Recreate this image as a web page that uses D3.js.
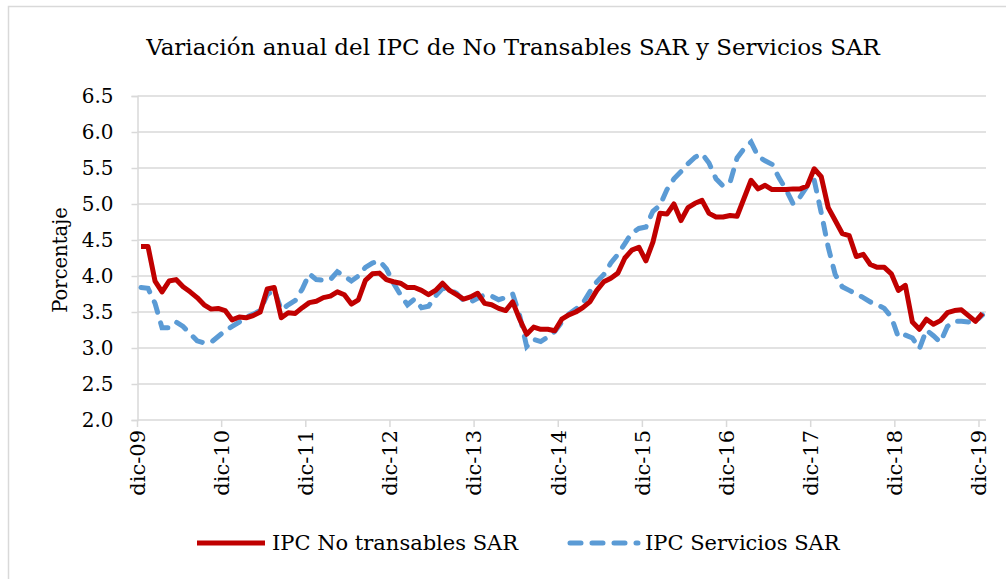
<!DOCTYPE html>
<html>
<head>
<meta charset="utf-8">
<script src="https://cdn.jsdelivr.net/npm/d3@7"></script>
<style>
  body { margin: 0; background: #fff; }
  svg text { font-family: "DejaVu Serif", serif; fill: #000; }
</style>
</head>
<body>
<div id="chart"></div>
<script>
// Monthly data, dic-09 ... dic-19 (121 months)
const noTransables = [
  4.41, 4.41, 3.93, 3.78, 3.93, 3.95, 3.85, 3.78, 3.70, 3.60, 3.54, 3.55,
  3.52, 3.39, 3.43, 3.42, 3.45, 3.50, 3.82, 3.84, 3.42, 3.49, 3.48, 3.56,
  3.63, 3.65, 3.70, 3.72, 3.78, 3.74, 3.61, 3.67, 3.94, 4.03, 4.04, 3.95,
  3.92, 3.90, 3.84, 3.84, 3.80, 3.74, 3.80, 3.90, 3.80, 3.74, 3.68, 3.71,
  3.76, 3.62, 3.60, 3.55, 3.52, 3.64, 3.40, 3.19, 3.29, 3.26, 3.26, 3.24,
  3.40, 3.46, 3.50, 3.56, 3.64, 3.80, 3.92, 3.97, 4.04, 4.25, 4.36, 4.40,
  4.21, 4.47, 4.87, 4.86, 5.00, 4.77, 4.95, 5.01, 5.05, 4.87, 4.82, 4.82,
  4.84, 4.83, 5.08, 5.33, 5.21, 5.26, 5.20, 5.20, 5.20, 5.21, 5.21, 5.25,
  5.49, 5.38, 4.95, 4.77, 4.59, 4.56, 4.27, 4.30, 4.16, 4.12, 4.12, 4.03,
  3.80, 3.87, 3.36, 3.26, 3.40, 3.33, 3.38, 3.49, 3.52, 3.53, 3.45, 3.37,
  3.48
];
const servicios = [
  3.84, 3.83, 3.62, 3.28, 3.28, 3.36, 3.30, 3.20, 3.10, 3.07, 3.08, 3.16,
  3.24, 3.30, 3.36, 3.43, 3.47, 3.52, 3.74, 3.81, 3.53, 3.60, 3.66, 3.82,
  4.03, 3.95, 3.94, 3.95, 4.06, 4.00, 3.93, 4.00, 4.12, 4.18, 4.21, 4.10,
  3.90, 3.74, 3.60, 3.68, 3.56, 3.58, 3.72, 3.83, 3.81, 3.76, 3.66, 3.64,
  3.69, 3.74, 3.72, 3.67, 3.70, 3.75, 3.45, 3.02, 3.12, 3.09, 3.15, 3.23,
  3.36, 3.47, 3.54, 3.62, 3.78, 3.92, 4.02, 4.18, 4.30, 4.45, 4.60, 4.66,
  4.68, 4.90, 4.98, 5.20, 5.35, 5.45, 5.56, 5.65, 5.70, 5.57, 5.35, 5.25,
  5.30, 5.64, 5.77, 5.86, 5.66, 5.60, 5.55, 5.36, 5.20, 5.00, 5.10, 5.25,
  5.33, 4.88, 4.40, 4.02, 3.85, 3.80, 3.75, 3.70, 3.64, 3.60, 3.55, 3.43,
  3.15, 3.18, 3.14, 2.99, 3.25, 3.17, 3.08, 3.30, 3.37, 3.37, 3.36, 3.37,
  3.46
];
const tickLabels = ["dic-09", "dic-10", "dic-11", "dic-12", "dic-13", "dic-14",
  "dic-15", "dic-16", "dic-17", "dic-18", "dic-19"];
const yTicks = [2.0, 2.5, 3.0, 3.5, 4.0, 4.5, 5.0, 5.5, 6.0, 6.5];
const seriesNames = ["IPC No transables SAR", "IPC Servicios SAR"];

const W = 1006, H = 579;
const plot = { left: 137.5, right: 986, top: 96, bottom: 420 };
const RED = "#C00000", BLUE = "#5B9BD5", GRID = "#D9D9D9";

const svg = d3.select("#chart").append("svg")
  .attr("width", W).attr("height", H);

// chart area border
svg.append("rect")
  .attr("x", 8.5).attr("y", 6.5)
  .attr("width", 1020).attr("height", 600)
  .attr("fill", "#fff").attr("stroke", GRID).attr("stroke-width", 1.5);

const x = d3.scaleBand()
  .domain(d3.range(noTransables.length))
  .range([plot.left, plot.right])
  .padding(0);
const xc = (i) => x(i) + x.bandwidth() / 2;

const y = d3.scaleLinear().domain([2, 6.5]).range([plot.bottom, plot.top]);

// title
svg.append("text")
  .attr("x", 513).attr("y", 55)
  .attr("text-anchor", "middle")
  .style("font-size", "23px")
  .text("Variación anual del IPC de No Transables SAR y Servicios SAR");

// gridlines
svg.append("g")
  .selectAll("line")
  .data(yTicks.slice(1))
  .join("line")
  .attr("x1", plot.left).attr("x2", plot.right)
  .attr("y1", (d) => y(d)).attr("y2", (d) => y(d))
  .attr("stroke", GRID).attr("stroke-width", 1.5);

// y axis
const yAxis = svg.append("g")
  .attr("transform", `translate(${plot.left},0)`)
  .call(d3.axisLeft(y).tickValues(yTicks).tickFormat(d3.format(".1f")).tickSize(6).tickPadding(18));
yAxis.select(".domain").attr("stroke", GRID).attr("stroke-width", 1.5);
yAxis.selectAll(".tick line").attr("stroke", GRID).attr("stroke-width", 1.5);
yAxis.selectAll(".tick text").style("font-size", "20px").attr("font-family", null);

// x axis (ticks every 12 months at category boundary)
const tickIdx = tickLabels.map((d, k) => k * 12);
const xAxis = svg.append("g");
xAxis.append("line")
  .attr("x1", plot.left).attr("x2", plot.right)
  .attr("y1", plot.bottom).attr("y2", plot.bottom)
  .attr("stroke", GRID).attr("stroke-width", 1.5);
xAxis.selectAll("line.tk")
  .data(tickIdx)
  .join("line")
  .attr("class", "tk")
  .attr("x1", (i) => x(i)).attr("x2", (i) => x(i))
  .attr("y1", plot.bottom).attr("y2", plot.bottom + 7)
  .attr("stroke", GRID).attr("stroke-width", 1.5);
xAxis.selectAll("text")
  .data(tickIdx)
  .join("text")
  .attr("transform", (i) => `translate(${x(i)},${plot.bottom + 10}) rotate(-90)`)
  .attr("text-anchor", "end")
  .attr("dy", "0.35em")
  .style("font-size", "21px")
  .text((i, k) => tickLabels[k]);

// y axis title
svg.append("text")
  .attr("transform", `translate(67,${(plot.top + plot.bottom) / 2 + 2}) rotate(-90)`)
  .attr("text-anchor", "middle")
  .style("font-size", "19.5px")
  .text("Porcentaje");

// lines
const line = d3.line().x((d, i) => xc(i)).y((d) => y(d));

svg.append("path")
  .datum(servicios)
  .attr("d", line)
  .attr("fill", "none")
  .attr("stroke", BLUE)
  .attr("stroke-width", 5)
  .attr("stroke-linecap", "round")
  .attr("stroke-dasharray", "11,11");

svg.append("path")
  .datum(noTransables)
  .attr("d", line)
  .attr("fill", "none")
  .attr("stroke", RED)
  .attr("stroke-width", 5)
  .attr("stroke-linejoin", "round");

// legend
const legend = svg.append("g").attr("transform", "translate(0,543)");
const legendItems = [
  { name: seriesNames[0], color: RED, dash: null, x0: 197 },
  { name: seriesNames[1], color: BLUE, dash: "11,11", x0: 570 }
];
const li = legend.selectAll("g")
  .data(legendItems)
  .join("g")
  .attr("transform", (d) => `translate(${d.x0},0)`);
li.append("line")
  .attr("x1", 0).attr("x2", 68)
  .attr("stroke", (d) => d.color)
  .attr("stroke-width", 5)
  .attr("stroke-linecap", (d) => (d.dash ? "round" : "butt"))
  .attr("stroke-dasharray", (d) => d.dash);
li.append("text")
  .attr("x", 75)
  .attr("dy", "0.35em")
  .style("font-size", "21px")
  .text((d) => d.name);
</script>
</body>
</html>
